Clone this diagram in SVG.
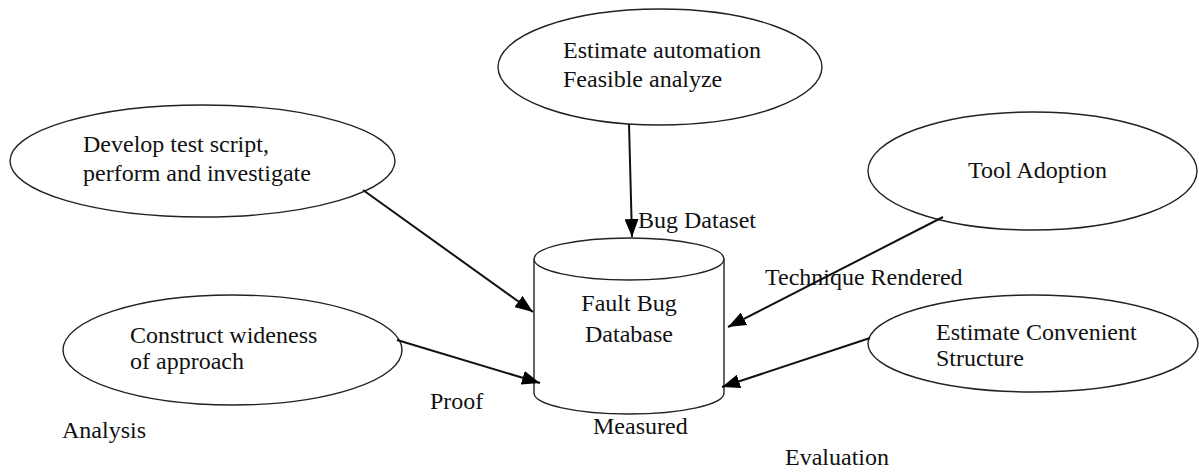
<svg xmlns="http://www.w3.org/2000/svg" width="1199" height="472" viewBox="0 0 1199 472">
<defs>
<style>
.shape{fill:#fff;stroke:#222;stroke-width:1.4}
.t{font-family:"Liberation Serif","Times New Roman",serif;font-size:24px;fill:#111}
.c{stroke:#111;stroke-width:2;fill:none}
</style>
<marker id="ah" markerUnits="userSpaceOnUse" markerWidth="18" markerHeight="14" refX="18" refY="7" orient="auto">
<path d="M0,0 L18,7 L0,14 z" fill="#000"/>
</marker>
</defs>
<rect width="1199" height="472" fill="#fff"/>
<g id="node-estimate-automation">
<ellipse class="shape" cx="660" cy="67" rx="162" ry="58"/>
<text class="t" x="563" y="58">Estimate automation</text>
<text class="t" x="563" y="87">Feasible analyze</text>
</g>
<g id="node-develop">
<ellipse class="shape" cx="202.5" cy="161" rx="192.5" ry="56"/>
<text class="t" x="83" y="152">Develop test script,</text>
<text class="t" x="83" y="181">perform and investigate</text>
</g>
<g id="node-tool-adoption">
<ellipse class="shape" cx="1032.5" cy="171" rx="164.5" ry="59"/>
<text class="t" x="968" y="178">Tool Adoption</text>
</g>
<g id="node-construct">
<ellipse class="shape" cx="232.5" cy="350" rx="169.5" ry="55"/>
<text class="t" x="130" y="343">Construct wideness</text>
<text class="t" x="130" y="369">of approach</text>
</g>
<g id="node-estimate-convenient">
<ellipse class="shape" cx="1033" cy="343.5" rx="165" ry="48.5"/>
<text class="t" x="936" y="340">Estimate Convenient</text>
<text class="t" x="936" y="366">Structure</text>
</g>
<g id="node-database">
<path class="shape" d="M534,259 L534,393 A95,21 0 0 0 724,393 L724,259"/>
<ellipse class="shape" cx="629" cy="259" rx="95" ry="21"/>
<text class="t" x="629" y="311" text-anchor="middle">Fault Bug</text>
<text class="t" x="629" y="342" text-anchor="middle">Database</text>
</g>
<g id="connectors">
<line class="c" x1="629" y1="124" x2="632" y2="237" marker-end="url(#ah)"/>
<line class="c" x1="363" y1="190" x2="533" y2="312" marker-end="url(#ah)"/>
<line class="c" x1="943" y1="217" x2="728" y2="327" marker-end="url(#ah)"/>
<line class="c" x1="397" y1="340" x2="540" y2="383" marker-end="url(#ah)"/>
<line class="c" x1="870" y1="338" x2="722" y2="387" marker-end="url(#ah)"/>
</g>
<g id="labels">
<text class="t" x="638" y="228">Bug Dataset</text>
<text class="t" x="765" y="285">Technique Rendered</text>
<text class="t" x="430" y="409">Proof</text>
<text class="t" x="62" y="438">Analysis</text>
<text class="t" x="593" y="434">Measured</text>
<text class="t" x="785" y="465">Evaluation</text>
</g>
</svg>
